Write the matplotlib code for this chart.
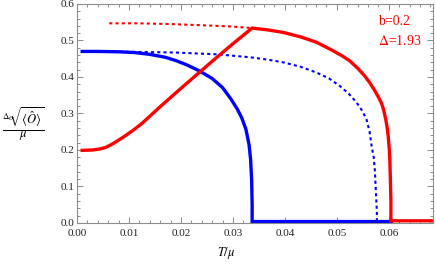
import matplotlib
matplotlib.use("Agg")
import matplotlib.pyplot as plt
from matplotlib.ticker import MultipleLocator, FormatStrFormatter

plt.rcParams['font.family'] = ['Liberation Serif', 'DejaVu Serif']
plt.rcParams['mathtext.fontset'] = 'stix'

# 蓝色实线
blue_T = [0.001, 0.004, 0.008, 0.011, 0.014, 0.017, 0.019, 0.021, 0.0235, 0.026,
          0.028, 0.0296, 0.0308, 0.0317, 0.0325, 0.0331, 0.0334, 0.0336, 0.0337, 0.0337,
          0.045, 0.0605]
blue_v = [0.470, 0.470, 0.469, 0.467, 0.462, 0.454, 0.445, 0.434, 0.417, 0.396,
          0.371, 0.340, 0.313, 0.288, 0.257, 0.215, 0.175, 0.120, 0.050, 0.004,
          0.004, 0.004]

# 红色实线
red_T = [0.001, 0.003, 0.0045, 0.0055, 0.0065, 0.0078, 0.0094, 0.011, 0.0126, 0.0142,
         0.0158, 0.0205, 0.0235, 0.027, 0.030, 0.0337, 0.0367, 0.0397, 0.043, 0.0461,
         0.049, 0.051, 0.0525, 0.054, 0.0553, 0.0563, 0.0572, 0.058, 0.0586, 0.059,
         0.0594, 0.0597, 0.0599, 0.0601, 0.0602, 0.0603, 0.0604, 0.0604, 0.069]
red_v = [0.199, 0.200, 0.203, 0.207, 0.214, 0.225, 0.240, 0.256, 0.274, 0.295,
         0.316, 0.375, 0.412, 0.455, 0.491, 0.534, 0.529, 0.522, 0.510, 0.495,
         0.474, 0.458, 0.444, 0.424, 0.404, 0.385, 0.365, 0.345, 0.328, 0.310,
         0.285, 0.260, 0.235, 0.200, 0.170, 0.120, 0.060, 0.006, 0.006]

# 虚线
red_dot_T = [0.0062, 0.012, 0.018, 0.0254, 0.030, 0.0337]
red_dot_v = [0.547, 0.547, 0.545, 0.541, 0.538, 0.534]

blue_dot_T = [0.001, 0.010, 0.019, 0.027, 0.0333, 0.0365, 0.0397, 0.043, 0.0461, 0.0485,
              0.0506, 0.0523, 0.0538, 0.0549, 0.0557, 0.0563, 0.0567, 0.0571, 0.0573,
              0.0575, 0.0577, 0.0577]
blue_dot_v = [0.470, 0.469, 0.467, 0.462, 0.454, 0.448, 0.440, 0.428, 0.412, 0.396,
              0.375, 0.354, 0.330, 0.307, 0.284, 0.250, 0.210, 0.180, 0.146,
              0.090, 0.030, 0.004]

fig = plt.figure(figsize=(4.36, 2.65), dpi=100)
ax = fig.add_axes([0.1766, 0.1585, 0.8165, 0.8265])

dot = (0, (1.5, 1.5))
ax.plot(red_dot_T, red_dot_v, color='#ff0000', lw=1.5, ls=dot)
ax.plot(blue_dot_T, blue_dot_v, color='#0000ff', lw=1.5, ls=dot)
ax.plot(blue_T, blue_v, color='#0000ff', lw=2.4, solid_joinstyle='miter')
ax.plot(red_T, red_v, color='#ff0000', lw=2.4, solid_joinstyle='miter')

ax.text(0.0579, 0.551, 'b=0.2', color='#ff0000', fontsize=10, va='center')
ax.text(0.0579, 0.499, r'$\mathrm{\Delta}$=1.93', color='#ff0000', fontsize=10, va='center')

ax.set_xlim(0, 0.0685)
ax.set_ylim(0, 0.6)
ax.xaxis.set_major_locator(MultipleLocator(0.01))
ax.xaxis.set_minor_locator(MultipleLocator(0.002))
ax.yaxis.set_major_locator(MultipleLocator(0.1))
ax.yaxis.set_minor_locator(MultipleLocator(0.02))
ax.xaxis.set_major_formatter(FormatStrFormatter('%.2f'))
ax.yaxis.set_major_formatter(FormatStrFormatter('%.1f'))

for s in ax.spines.values():
    s.set_color('#8c8c8c')
    s.set_linewidth(0.8)
ax.tick_params(which='both', direction='in', top=True, right=True,
               color='#8c8c8c', width=0.7, labelsize=8, labelcolor='#222222')
ax.tick_params(axis='x', pad=4)
ax.tick_params(axis='y', pad=2)
ax.tick_params(which='major', length=4)
ax.tick_params(which='minor', length=2)

ax.set_xlabel(r'$T/\mu$', fontsize=9)
ax.xaxis.set_label_coords(0.419, -0.10)
ax.set_ylabel(r'$\frac{{}^{\Delta_O}\!\!\!\sqrt{\langle\hat{O}\rangle}}{\mu}$', fontsize=13,
              rotation=0, va='center', ha='center')
ax.yaxis.set_label_coords(-0.15, 0.447)

fig.savefig('out.png', dpi=100)
